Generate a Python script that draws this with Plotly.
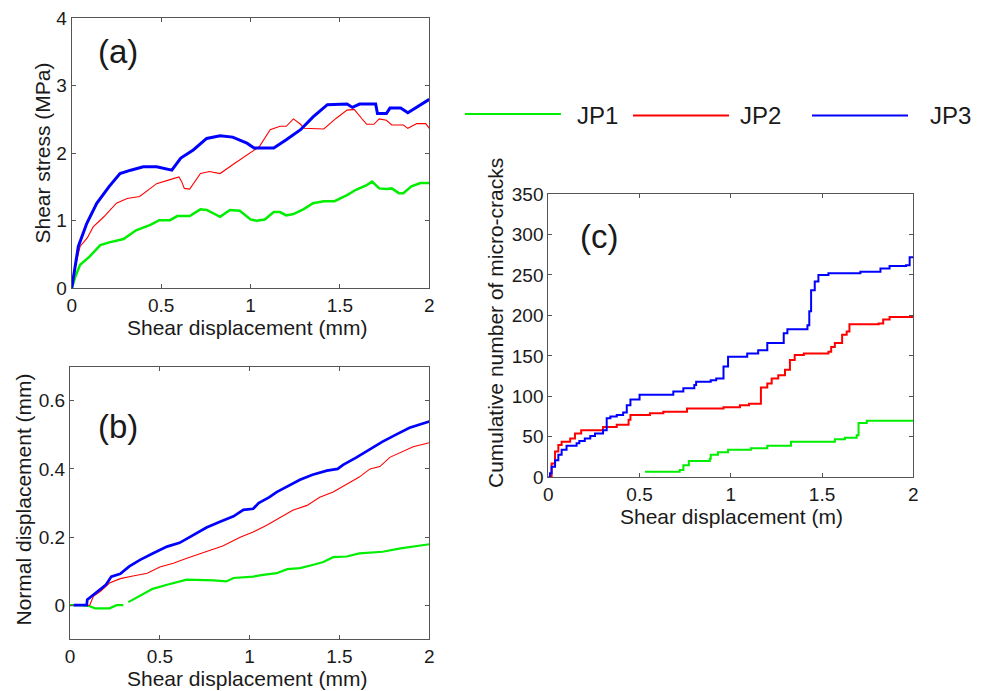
import plotly.graph_objects as go

W, H = 987, 691

series_names = ["JP1", "JP2", "JP3"]
series_colors = ["#00ee00", "#ff0000", "#0000ff"]

# ---------------- Panel (a): shear stress vs shear displacement ----------------
a_jp1_x = [0, 0.02, 0.047, 0.10, 0.16, 0.21, 0.29, 0.36, 0.44, 0.49, 0.55, 0.59, 0.66, 0.72, 0.755, 0.83, 0.885,
           0.94, 1.00, 1.035, 1.08, 1.13, 1.165, 1.20, 1.24, 1.295, 1.35, 1.41, 1.47, 1.54, 1.59, 1.65, 1.68,
           1.72, 1.76, 1.79, 1.83, 1.855, 1.90, 1.95, 2.0]
a_jp1_y = [0, 0.17, 0.35, 0.47, 0.64, 0.68, 0.73, 0.86, 0.94, 1.01, 1.01, 1.07, 1.07, 1.17, 1.16, 1.06, 1.16,
           1.15, 1.02, 1.00, 1.02, 1.13, 1.13, 1.08, 1.10, 1.17, 1.26, 1.29, 1.29, 1.38, 1.46, 1.53, 1.58,
           1.48, 1.47, 1.48, 1.41, 1.41, 1.51, 1.56, 1.56]

a_jp2_x = [0, 0.02, 0.047, 0.088, 0.12, 0.18, 0.25, 0.31, 0.38, 0.475, 0.55, 0.60, 0.615, 0.63, 0.66, 0.72, 0.77,
           0.83, 0.90, 0.98, 1.05, 1.11, 1.165, 1.20, 1.24, 1.28, 1.30, 1.41, 1.48, 1.54, 1.58, 1.63, 1.65,
           1.69, 1.72, 1.76, 1.79, 1.855, 1.88, 1.93, 1.98, 2.0]
a_jp2_y = [0, 0.32, 0.62, 0.75, 0.91, 1.06, 1.26, 1.33, 1.36, 1.55, 1.61, 1.65, 1.58, 1.48, 1.47, 1.70, 1.73,
           1.70, 1.83, 1.98, 2.10, 2.35, 2.40, 2.40, 2.51, 2.43, 2.37, 2.36, 2.52, 2.64, 2.65, 2.49, 2.43,
           2.43, 2.51, 2.49, 2.42, 2.42, 2.37, 2.44, 2.44, 2.37]

a_jp3_x = [0, 0.037, 0.084, 0.14, 0.21, 0.27, 0.33, 0.40, 0.475, 0.56, 0.61, 0.68, 0.755, 0.83, 0.90, 0.98, 1.02,
           1.13, 1.20, 1.28, 1.35, 1.43, 1.54, 1.57, 1.61, 1.70, 1.71, 1.76, 1.78, 1.84, 1.88, 1.93, 2.0]
a_jp3_y = [0, 0.62, 0.96, 1.26, 1.51, 1.70, 1.75, 1.80, 1.80, 1.75, 1.93, 2.05, 2.22, 2.26, 2.24, 2.15, 2.08,
           2.08, 2.20, 2.35, 2.54, 2.72, 2.73, 2.68, 2.73, 2.73, 2.59, 2.59, 2.67, 2.67, 2.60, 2.68, 2.80]

# ---------------- Panel (b): normal displacement vs shear displacement ----------------
b_jp1_x = [0, 0.065, 0.11, 0.14, 0.22, 0.26, 0.297, None, 0.325, 0.39, 0.46, 0.54, 0.61, 0.65, 0.80, 0.87, 0.91,
           1.02, 1.075, 1.15, 1.21, 1.28, 1.35, 1.41, 1.465, 1.54, 1.61, 1.69, 1.74, 1.84, 1.91, 2.0]
b_jp1_y = [0, 0, -0.003, -0.009, -0.009, 0, 0, None, 0.009, 0.028, 0.048, 0.060, 0.070, 0.075, 0.073, 0.070, 0.080,
           0.084, 0.089, 0.094, 0.106, 0.109, 0.118, 0.127, 0.141, 0.143, 0.152, 0.154, 0.157, 0.167, 0.172, 0.179]

b_jp2_x = [0.075, 0.11, 0.13, 0.17, 0.22, 0.28, 0.35, 0.43, 0.50, 0.575, 0.65, 0.76, 0.85, 0.95, 1.02, 1.095,
           1.17, 1.24, 1.32, 1.39, 1.465, 1.54, 1.61, 1.67, 1.725, 1.78, 1.84, 1.91, 2.0]
b_jp2_y = [0, 0, 0.026, 0.041, 0.065, 0.078, 0.086, 0.094, 0.112, 0.123, 0.138, 0.157, 0.174, 0.200, 0.215, 0.235,
           0.259, 0.279, 0.293, 0.317, 0.332, 0.354, 0.376, 0.400, 0.407, 0.434, 0.448, 0.465, 0.477]

b_jp3_x = [0.02, 0.093, 0.096, 0.12, 0.15, 0.20, 0.23, 0.28, 0.33, 0.39, 0.46, 0.54, 0.61, 0.69, 0.76, 0.835,
           0.91, 0.965, 1.02, 1.05, 1.11, 1.15, 1.21, 1.28, 1.35, 1.43, 1.49, 1.52, 1.595, 1.67, 1.74, 1.82,
           1.89, 2.0]
b_jp3_y = [0, 0, 0.016, 0.026, 0.041, 0.060, 0.084, 0.092, 0.114, 0.133, 0.152, 0.172, 0.183, 0.206, 0.228, 0.245,
           0.261, 0.280, 0.283, 0.300, 0.317, 0.332, 0.349, 0.368, 0.383, 0.395, 0.400, 0.412, 0.434, 0.458, 0.480,
           0.502, 0.521, 0.539]

# ---------------- Panel (c): cumulative number of micro-cracks ----------------
c_jp1_x = [0.53, 0.72, 0.74, 0.77, 0.885, 0.89, 0.93, 0.985, 1.11, 1.20, 1.33, 1.57, 1.625, 1.69, 1.70, 1.745, 2.0]
c_jp1_y = [7, 9, 15, 20, 23, 28, 31, 34, 36, 39, 44, 47, 49, 52, 67, 70, 70]

c_jp2_x = [0, 0.018, 0.037, 0.055, 0.073, 0.12, 0.146, 0.18, 0.30, 0.375, 0.44, 0.45, 0.557, 0.63, 0.76, 0.96,
           1.05, 1.10, 1.165, 1.20, 1.224, 1.26, 1.297, 1.324, 1.35, 1.40, 1.535, 1.55, 1.57, 1.61, 1.635, 1.65,
           1.81, 1.835, 1.87, 2.0]
c_jp2_y = [0, 17, 32, 40, 44, 48, 54, 58, 62, 65, 71, 77, 79, 81, 85, 86.5,
           89, 91, 111, 116, 122, 126, 133, 145, 151, 153, 155, 161, 166, 176, 180, 189,
           190, 195, 198, 198]

c_jp3_x = [0, 0.009, 0.018, 0.037, 0.055, 0.073, 0.10, 0.155, 0.17, 0.20, 0.23, 0.256, 0.30, 0.32, 0.34, 0.375,
           0.41, 0.43, 0.45, 0.50, 0.685, 0.74, 0.80, 0.81, 0.89, 0.92, 0.96, 0.985, 1.09, 1.15, 1.20, 1.29,
           1.31, 1.42, 1.43, 1.44, 1.46, 1.48, 1.535, 1.71, 1.82, 1.87, 1.96, 1.98, 2.0]
c_jp3_y = [0, 5, 13, 21, 28, 34, 39, 42, 45, 48, 51, 54, 58, 73, 75, 77,
           80, 89, 96, 102, 106, 110, 114, 118, 120, 122, 137, 149, 153, 157, 166, 178,
           183, 188, 205, 231, 242, 250, 252, 254, 258, 261, 262, 272, 272]

# axis / label text
a_ytitle = "Shear stress (MPa)"
b_ytitle = "Normal displacement (mm)"
c_ytitle = "Cumulative number of micro-cracks"
ab_xtitle = "Shear displacement (mm)"
c_xtitle = "Shear displacement (m)"
panel_labels = ["(a)", "(b)", "(c)"]

FONT = "Liberation Sans, Arial, sans-serif"
TXT = "#1a1a1a"


def px(x):
    """page pixel x -> paper fraction"""
    return x / W


def py(y):
    """page pixel y (from top) -> paper fraction"""
    return 1 - y / H


fig = go.Figure()

panels = [
    ("x", "y", [a_jp1_x, a_jp2_x, a_jp3_x], [a_jp1_y, a_jp2_y, a_jp3_y], [2.5, 1.1, 3.0], "linear"),
    ("x2", "y2", [b_jp1_x, b_jp2_x, b_jp3_x], [b_jp1_y, b_jp2_y, b_jp3_y], [2.2, 1.1, 2.7], "linear"),
    ("x3", "y3", [c_jp1_x, c_jp2_x, c_jp3_x], [c_jp1_y, c_jp2_y, c_jp3_y], [2.0, 2.0, 2.0], "hv"),
]
for xa, ya, xs, ys, widths, shape in panels:
    for i in range(3):
        fig.add_trace(go.Scatter(
            x=xs[i], y=ys[i], mode="lines", name=series_names[i],
            line=dict(color=series_colors[i], width=widths[i], shape=shape),
            xaxis=xa, yaxis=ya, showlegend=False, connectgaps=False,
        ))

axis_common = dict(
    showline=True, linecolor="#555555", linewidth=1, mirror="ticks",
    ticks="inside", ticklen=4, tickcolor="#555555", showgrid=False, zeroline=False,
    automargin=False, ticklabeloverflow="allow",
    tickfont=dict(family=FONT, size=19, color=TXT),
)

fig.update_layout(
    width=W, height=H,
    margin=dict(l=0, r=0, t=0, b=0, pad=0, autoexpand=False),
    paper_bgcolor="white", plot_bgcolor="white",
    font=dict(family=FONT, color=TXT),
    xaxis=dict(domain=[px(71.7), px(429.3)], range=[0, 2], dtick=0.5, anchor="y", **axis_common),
    yaxis=dict(domain=[py(288.3), py(18.3)], range=[0, 4], dtick=1, anchor="x", **axis_common),
    xaxis2=dict(domain=[px(70), px(429.3)], range=[0, 2], dtick=0.5, anchor="y2", **axis_common),
    yaxis2=dict(domain=[py(639.3), py(366.7)], range=[-0.1, 0.7], tickvals=[0, 0.2, 0.4, 0.6], anchor="x2", **axis_common),
    xaxis3=dict(domain=[px(548.3), px(913.3)], range=[0, 2], dtick=0.5, anchor="y3", **axis_common),
    yaxis3=dict(domain=[py(477.3), py(194)], range=[0, 350], dtick=50, anchor="x3", **axis_common),
    showlegend=False,
)

ann = []
title_font = dict(family=FONT, size=21, color=TXT)
# axis titles
ann.append(dict(text=a_ytitle, x=px(41.5), y=py(153), textangle=-90, font=title_font))
ann.append(dict(text=ab_xtitle, x=px(247), y=py(327), font=title_font))
ann.append(dict(text=b_ytitle, x=px(22.5), y=py(500), textangle=-90, font=title_font))
ann.append(dict(text=ab_xtitle, x=px(247), y=py(678), font=title_font))
ann.append(dict(text=c_ytitle, x=px(495), y=py(323), textangle=-90, font=title_font))
ann.append(dict(text=c_xtitle, x=px(731), y=py(516), font=title_font))
# panel labels
label_font = dict(family=FONT, size=33, color=TXT)
for lab, (lx, ly) in zip(panel_labels, [(117.5, 51), (117.5, 426), (599, 236)]):
    ann.append(dict(text=lab, x=px(lx), y=py(ly), font=label_font))

# custom legend (long line samples)
leg_lines = [(465, 561, 114), (633, 729, 115.5), (812, 908, 115.5)]
leg_text_x = [575, 738, 928]
shapes = []
for i, (x0, x1, yy) in enumerate(leg_lines):
    shapes.append(dict(type="line", xref="paper", yref="paper", x0=px(x0), x1=px(x1), y0=py(yy), y1=py(yy),
                       line=dict(color=series_colors[i], width=2.2)))
    ann.append(dict(text=series_names[i], x=px(leg_text_x[i]), y=py(115), xanchor="left",
                    font=dict(family=FONT, size=24, color=TXT)))

for a in ann:
    a.update(xref="paper", yref="paper", showarrow=False)
    a.setdefault("xanchor", "center")
    a.setdefault("yanchor", "middle")

fig.update_layout(annotations=ann, shapes=shapes)
# remove the browser's default body margin so the figure fills the 987x691 window exactly
fig.write_html(
    "out.html",
    config={"displayModeBar": False},
    post_script="document.body.style.margin='0';document.documentElement.style.overflow='hidden';",
)
